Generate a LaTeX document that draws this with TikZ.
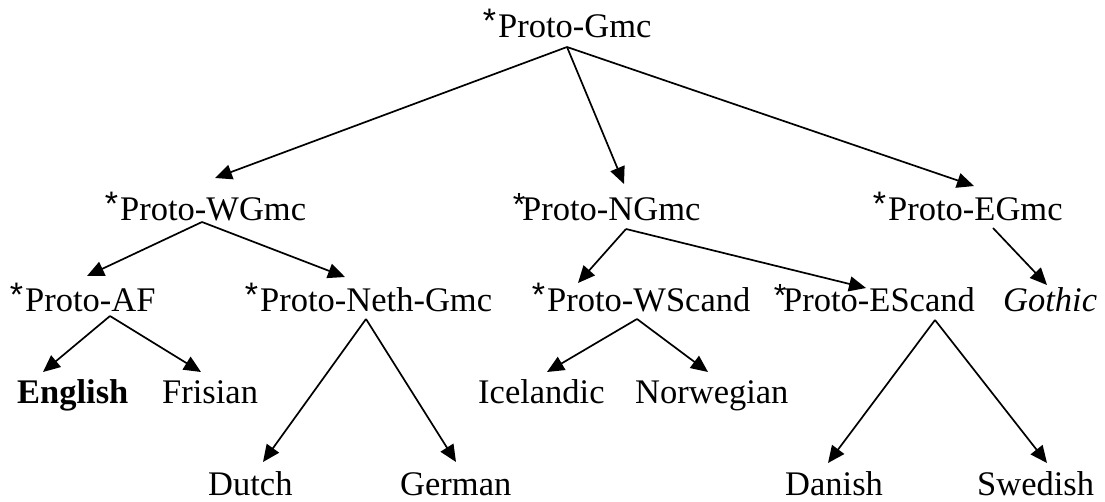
\documentclass[tikz,border=0pt]{standalone}
\usepackage{fontspec}
\setmainfont{Liberation Serif}
\newfontfamily\astfont{Liberation Sans}
\usetikzlibrary{arrows.meta}
\newcommand\astk{\llap{\raisebox{5pt}{\astfont\fontsize{34}{34}\selectfont *}\kern2pt}}
\newcommand\astkk{\llap{\raisebox{5pt}{\astfont\fontsize{32}{32}\selectfont *}\kern-3pt}}
\begin{document}
\begin{tikzpicture}[x=1pt,y=-1pt,
  lbl/.style={inner sep=0pt,anchor=base west,font=\fontsize{34.5}{40}\selectfont},
  arr/.style={line width=1.7pt,-{Triangle[length=17pt,width=15pt]}}]
\useasboundingbox (0,0) rectangle (1105,501);
% level 1
\node[lbl] (gmc) at (498,37.7) {\astk Proto-Gmc};
% level 2
\node[lbl] (wgmc) at (120,220.7) {\astk Proto-WGmc};
\node[lbl] (ngmc) at (522,220.7) {\astkk Proto-NGmc};
\node[lbl] (egmc) at (888,220.7) {\astk Proto-EGmc};
% level 3
\node[lbl] (af) at (25,311.7) {\astk Proto-AF};
\node[lbl] (neth) at (260,311.7) {\astk Proto-Neth-Gmc};
\node[lbl] (wscand) at (547,311.7) {\astk Proto-WScand};
\node[lbl] (escand) at (783,311.7) {\astkk Proto-EScand};
\node[lbl] (gothic) at (1003,311.7) {\textit{Gothic}};
% level 4
\node[lbl] (english) at (17,403) {\textbf{English}};
\node[lbl] (frisian) at (162,403) {Frisian};
\node[lbl] (icelandic) at (478,403) {Icelandic};
\node[lbl] (norwegian) at (635,403) {Norwegian};
% level 5
\node[lbl] (dutch) at (208,495) {Dutch};
\node[lbl] (german) at (400,495) {German};
\node[lbl] (danish) at (785,495) {Danish};
\node[lbl] (swedish) at (977,495) {Swedish};
% connectors
\draw[arr] ([shift={(69,9.3)}]gmc.base west) -- ([shift={(95,-42.7)}]wgmc.base west);
\draw[arr] ([shift={(69,9.3)}]gmc.base west) -- ([shift={(102,-36.7)}]ngmc.base west);
\draw[arr] ([shift={(69,9.3)}]gmc.base west) -- ([shift={(86,-34.7)}]egmc.base west);
\draw[arr] ([shift={(82,1.3)}]wgmc.base west) -- ([shift={(62,-35.7)}]af.base west);
\draw[arr] ([shift={(82,1.3)}]wgmc.base west) -- ([shift={(85,-34.7)}]neth.base west);
\draw[arr] ([shift={(104,8.3)}]ngmc.base west) -- ([shift={(31,-28.7)}]wscand.base west);
\draw[arr] ([shift={(104,8.3)}]ngmc.base west) -- ([shift={(83,-23.7)}]escand.base west);
\draw[arr] ([shift={(105,7.3)}]egmc.base west) -- ([shift={(44,-26.7)}]gothic.base west);
\draw[arr] ([shift={(85,4.3)}]af.base west) -- ([shift={(26,-31)}]english.base west);
\draw[arr] ([shift={(85,4.3)}]af.base west) -- ([shift={(39,-31)}]frisian.base west);
\draw[arr] ([shift={(106,7.3)}]neth.base west) -- ([shift={(55,-33)}]dutch.base west);
\draw[arr] ([shift={(106,7.3)}]neth.base west) -- ([shift={(56,-33)}]german.base west);
\draw[arr] ([shift={(90,7.3)}]wscand.base west) -- ([shift={(69,-31)}]icelandic.base west);
\draw[arr] ([shift={(90,7.3)}]wscand.base west) -- ([shift={(73,-31)}]norwegian.base west);
\draw[arr] ([shift={(152,8.3)}]escand.base west) -- ([shift={(43,-32)}]danish.base west);
\draw[arr] ([shift={(152,8.3)}]escand.base west) -- ([shift={(70,-32)}]swedish.base west);
\end{tikzpicture}
\end{document}
